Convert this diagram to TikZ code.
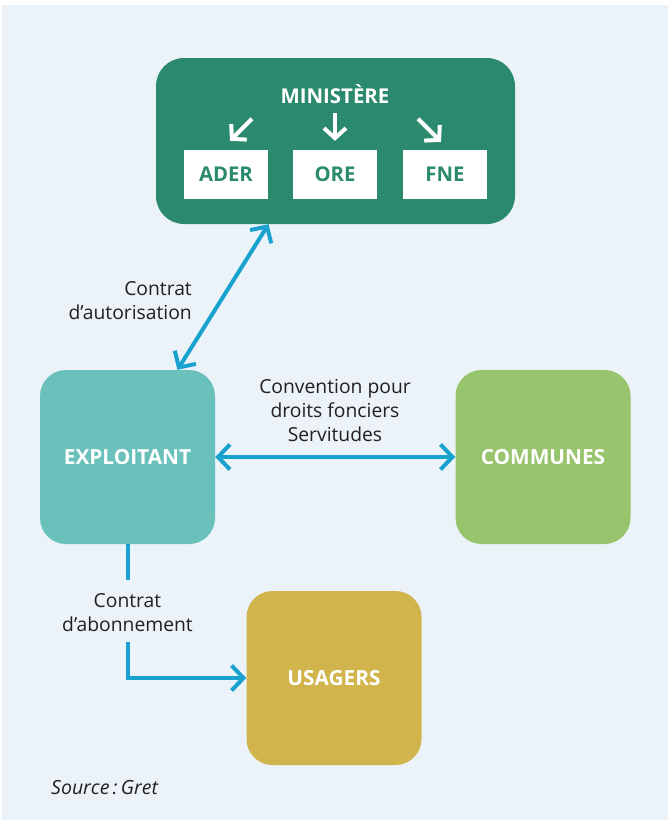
\documentclass[tikz,border=0pt]{standalone}
\usepackage{fontspec}
\setmainfont{Open Sans}
\usetikzlibrary{arrows.meta}
\definecolor{bgpanel}{HTML}{EBF3F9}
\definecolor{minigreen}{HTML}{2B8A6E}
\definecolor{exploteal}{HTML}{6AC0BA}
\definecolor{communegreen}{HTML}{97C46D}
\definecolor{usagergold}{HTML}{D1B44C}
\definecolor{linkblue}{HTML}{1AA2CF}
\definecolor{inktext}{HTML}{231F20}
\begin{document}
\begin{tikzpicture}[x=1pt,y=-1pt,
  bigbox/.style={rounded corners=26pt, minimum width=175pt, minimum height=174pt,
    inner sep=0pt, text=white, font=\fontsize{20.8}{24}\selectfont\bfseries},
  agency/.style={fill=white, minimum width=84pt, minimum height=49pt, inner sep=0pt,
    text=minigreen, font=\fontsize{20.3}{24}\selectfont\bfseries},
  link/.style={draw=linkblue, line width=4pt},
  barb/.style={-{Straight Barb[length=12pt,width=25pt]}},
  dbarb/.style={{Straight Barb[length=12pt,width=25pt]}-{Straight Barb[length=12pt,width=25pt]}},
  whitearrow/.style={draw=white, line width=4pt, -{Straight Barb[length=10pt,width=22pt]}},
  caption/.style={text=inktext, font=\fontsize{19.3}{24}\selectfont, inner sep=0pt}
]
\useasboundingbox (0,0) rectangle (668,823);
\fill[white] (0,0) rectangle (668,823);
\fill[bgpanel] (2,5) rectangle (668,820);

% Ministry block with its three agencies
\node[fill=minigreen, rounded corners=28pt, minimum width=359pt, minimum height=166pt, inner sep=0pt]
  (ministere) at (335.5,141) {};
\node[text=white, font=\fontsize{20.4}{24}\selectfont\bfseries, inner sep=0pt] (mintitle) at (335,94) {MINISTÈRE};
\node[agency] (ader) at (226,174.5) {ADER};
\node[agency] (ore) at (335,174.5) {ORE};
\node[agency] (fne) at (445,174.5) {FNE};
\draw[whitearrow] ([shift={(26,-31)}]ader.north) -- ([shift={(4,-9)}]ader.north);
\draw[whitearrow] ([shift={(0,-37)}]ore.north) -- ([shift={(0,-9)}]ore.north);
\draw[whitearrow] ([shift={(-27,-31)}]fne.north) -- ([shift={(-4,-8)}]fne.north);

% Actors
\node[bigbox, fill=exploteal] (exploitant) at (127.5,457) {EXPLOITANT};
\node[bigbox, fill=communegreen] (communes) at (543,457) {COMMUNES};
\node[bigbox, fill=usagergold] (usagers) at (334,678) {USAGERS};

% Contract links
\draw[link, dbarb] ([xshift=50pt]exploitant.north) -- ([xshift=-67pt]ministere.south);
\node[caption, align=right, anchor=east] (lblauth) at (192,301) {Contrat\\d’autorisation};

\draw[link, dbarb] (exploitant.east) -- (communes.west);
\node[caption, align=center] (lblconv) at (335,411) {Convention pour\\droits fonciers\\Servitudes};

\coordinate (gaptop) at (127.5,580);
\coordinate (gapbot) at (127.5,642);
\draw[link] (exploitant.south) -- (gaptop);
\draw[link, barb] (gapbot) |- (usagers.west);
\node[caption, align=center] (lblabon) at (127.5,613) {Contrat\\d’abonnement};

\node[text=inktext, font=\fontsize{19.5}{22}\selectfont\itshape, anchor=base west, inner sep=0pt]
  (source) at (51,794) {Source\,:\,Gret};
\end{tikzpicture}
\end{document}
